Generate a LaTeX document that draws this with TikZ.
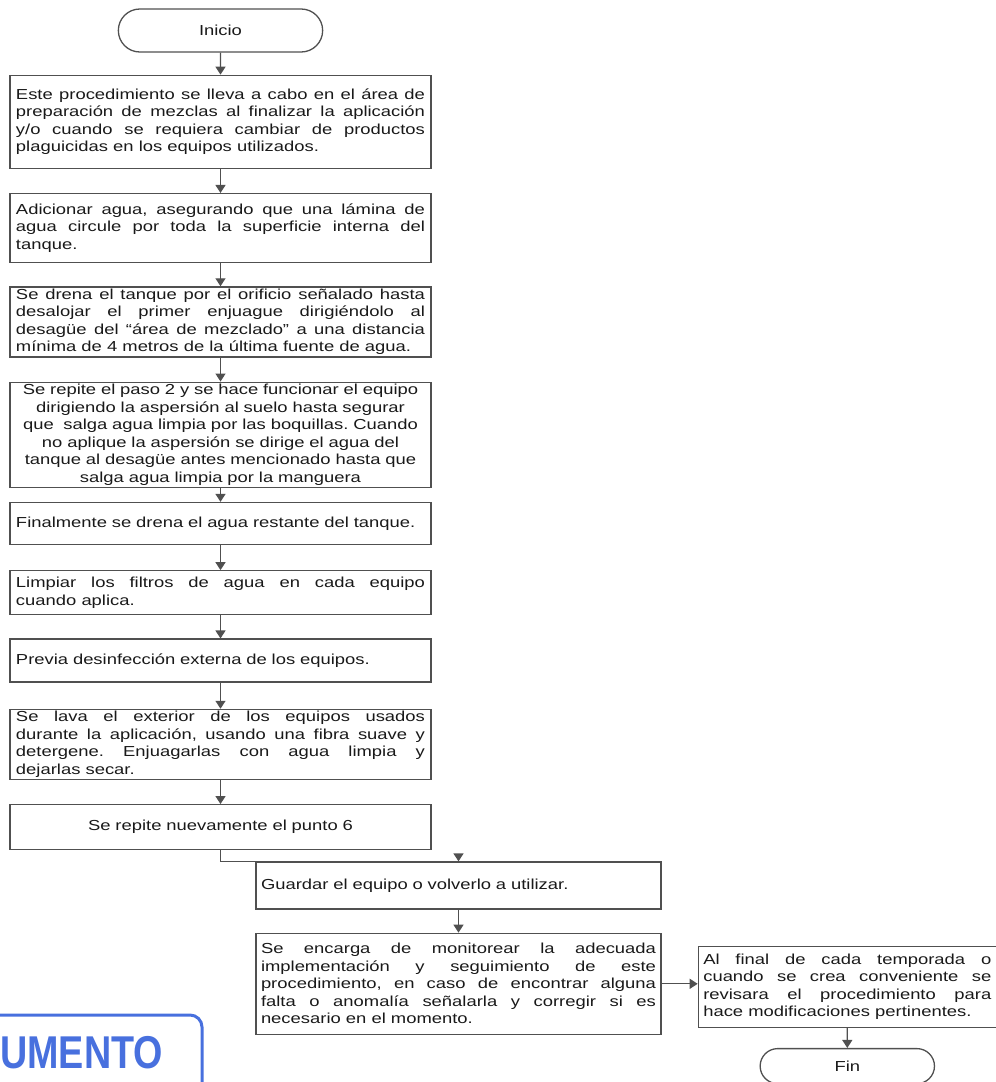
\documentclass[tikz,border=0pt]{standalone}
\usepackage{fontspec}
\setmainfont{Liberation Sans}[FakeStretch=1.27]
\newfontfamily\stampfont{Liberation Sans}[FakeStretch=0.82]
\usepackage{tikz}
\usetikzlibrary{positioning,shapes.misc,arrows.meta}
\definecolor{linea}{RGB}{80,80,80}
\definecolor{texto}{RGB}{25,25,25}
\definecolor{sello}{RGB}{72,112,222}
\hyphenpenalty=10000
\exhyphenpenalty=10000
\frenchspacing

\begin{document}
\begin{tikzpicture}[x=1pt, y=1pt, node distance=23pt, >={Triangle[width=10pt,length=8pt]},
    font=\fontsize{14.5pt}{17.5pt}\selectfont]
  \tikzstyle{paso}=[rectangle, draw=linea, line width=1.3pt, text=texto, text width=409pt, inner xsep=6pt, inner ysep=1pt, align=justify]
  \tikzstyle{pasob}=[paso, text width=395pt, inner xsep=5pt]
  \tikzstyle{term}=[rounded rectangle, draw=linea, line width=1.3pt, text=texto, minimum width=211pt, minimum height=43pt]
  \tikzstyle{flecha}=[->, draw=linea, line width=1.3pt]
  \useasboundingbox (0,0) rectangle (996,-1082);
  \node[term] (inicio) at (220.5,-30.5) {Inicio};
  \node[paso, minimum height=93pt, below=22pt of inicio] (p1) {Este procedimiento se lleva a cabo en el área de\linebreak preparación de mezclas al finalizar la aplicación\linebreak y/o cuando se requiera cambiar de productos\linebreak plaguicidas en los equipos utilizados.};
  \node[paso, minimum height=69pt, below=24pt of p1] (p2) {Adicionar agua, asegurando que una lámina de\linebreak agua circule por toda la superficie interna del\linebreak tanque.};
  \node[paso, minimum height=70pt, below=23pt of p2] (p3) {Se drena el tanque por el orificio señalado hasta\linebreak desalojar el primer enjuague dirigiéndolo al\linebreak desagüe del “área de mezclado” a una distancia\linebreak mínima de 4 metros de la última fuente de agua.};
  \node[paso, align=center, minimum height=105pt, below=24pt of p3] (p4) {Se repite el paso 2 y se hace funcionar el equipo\\ dirigiendo la aspersión al suelo hasta segurar\\ que\ \ salga agua limpia por las boquillas. Cuando\\ no aplique la aspersión se dirige el agua del\\ tanque al desagüe antes mencionado hasta que\\ salga agua limpia por la manguera};
  \node[paso, align=left, minimum height=42pt, below=14pt of p4] (p5) {Finalmente se drena el agua restante del tanque.};
  \node[paso, minimum height=44pt, below=25pt of p5] (p6) {Limpiar los filtros de agua en cada equipo\linebreak cuando aplica.};
  \node[paso, align=left, minimum height=43pt, below=23pt of p6] (p7) {Previa desinfección externa de los equipos.};
  \node[paso, minimum height=70pt, below=26pt of p7] (p8) {Se lava el exterior de los equipos usados\linebreak durante la aplicación, usando una fibra suave y\linebreak detergene. Enjuagarlas con agua limpia y\linebreak dejarlas secar.};
  \node[paso, align=center, minimum height=45pt, below=24pt of p8] (p9) {Se repite nuevamente el punto 6};
  \node[pasob, align=left, minimum height=47pt] (guardar) at (458.5,-885.5) {Guardar el equipo o volverlo a utilizar.};
  \node[pasob, minimum height=101pt, below=23pt of guardar] (monit) {Se encarga de monitorear la adecuada\linebreak implementación y seguimiento de este\linebreak procedimiento, en caso de encontrar alguna\linebreak falta o anomalía señalarla y corregir si es\linebreak necesario en el momento.};
  \node[paso, text width=288pt, inner xsep=5pt, minimum height=81pt, right=36pt of monit, yshift=-3pt] (revis) {Al final de cada temporada o\linebreak cuando se crea conveniente se\linebreak revisara el procedimiento para\linebreak hace modificaciones pertinentes.};
  \node[term, minimum width=181pt, minimum height=35pt, below=20pt of revis] (fin) {Fin};
  \draw[flecha] (inicio) -- (p1);
  \draw[flecha] (p1) -- (p2);
  \draw[flecha] (p2) -- (p3);
  \draw[flecha] (p3) -- (p4);
  \draw[flecha] (p4) -- (p5);
  \draw[flecha] (p5) -- (p6);
  \draw[flecha] (p6) -- (p7);
  \draw[flecha] (p7) -- (p8);
  \draw[flecha] (p8) -- (p9);
  \draw[flecha] (p9.south) -- ++(0,-11) -| (guardar.north);
  \draw[flecha] (guardar) -- (monit);
  \draw[flecha] (monit.east) -- (monit.east -| revis.west);
  \draw[flecha] (revis) -- (fin);
  % sello azul
  \draw[sello, line width=3pt, rounded corners=12pt] (-20,-1015) rectangle (202,-1110);
  \node[text=sello, inner sep=0pt, anchor=base west, font=\stampfont\bfseries\fontsize{46pt}{46pt}\selectfont] (stamp) at (0,-1068) {UMENTO};
\end{tikzpicture}
\end{document}
